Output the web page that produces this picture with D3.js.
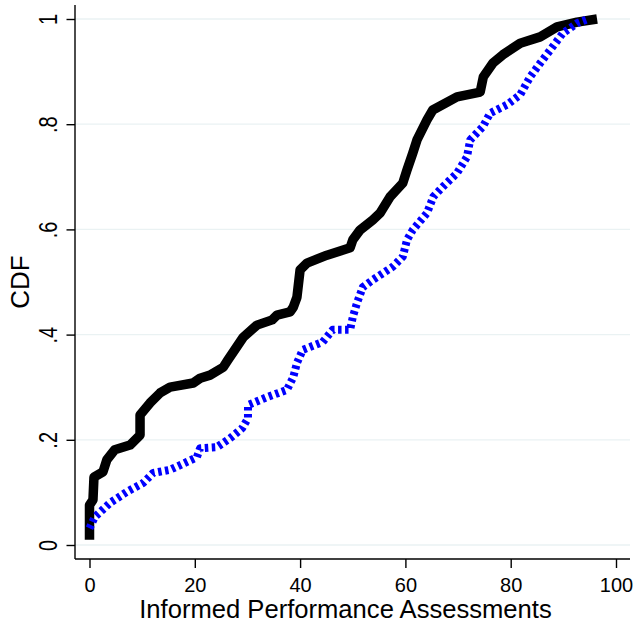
<!DOCTYPE html>
<html>
<head>
<meta charset="utf-8">
<script src="https://cdn.jsdelivr.net/npm/d3@7"></script>
<style>
  html, body { margin: 0; padding: 0; background: #ffffff; }
  svg { display: block; }
  text { font-family: "Liberation Sans", Arial, Helvetica, sans-serif; fill: #000; }
</style>
</head>
<body>
<svg id="chart" width="636" height="629"></svg>
<script>
// ---------------- data ----------------
const xTickValues = [0, 20, 40, 60, 80, 100];
const xTickLabels = ["0", "20", "40", "60", "80", "100"];
const yTickValues = [0, 0.2, 0.4, 0.6, 0.8, 1];
const yTickLabels = ["0", ".2", ".4", ".6", ".8", "1"];
const xTitle = "Informed Performance Assessments";
const yTitle = "CDF";

// black solid series (x = assessment, y = CDF)
const blackX = [0, 0, 0.66, 0.85, 2.56, 3.3, 4.8, 7.7, 9.6, 9.6, 11.5, 13.4, 15.3, 19.7, 21.0, 22.9,
  25.4, 26.3, 29.2, 31.8, 34.7, 35.6, 38.1, 38.7, 39.4, 40.0, 41.3, 45.1, 49.5, 50.0, 51.4,
  53.8, 55.2, 57.1, 59.5, 60.3, 61.4, 62.2, 64.1, 65.2, 69.8, 74.2, 74.8, 76.6, 78.5, 81.8,
  85.6, 88.8, 92.6, 96.4];
const blackY = [0.01, 0.076, 0.086, 0.129, 0.139, 0.162, 0.181, 0.190, 0.209, 0.247, 0.270, 0.289, 0.300, 0.308, 0.317, 0.323,
  0.338, 0.352, 0.395, 0.418, 0.428, 0.437, 0.443, 0.452, 0.471, 0.523, 0.536, 0.551, 0.565, 0.580, 0.599,
  0.618, 0.631, 0.662, 0.688, 0.713, 0.745, 0.770, 0.808, 0.827, 0.852, 0.861, 0.890, 0.916, 0.932, 0.954,
  0.966, 0.985, 0.994, 1.0];

// blue dashed series
const blueX = [0, 1.0, 3.9, 7.1, 10.2, 12.1, 15.3, 18.5, 20.4, 21.0, 24.2, 26.7, 29.0, 30.1, 30.1, 33.7,
  37.5, 38.7, 39.4, 40.5, 44.3, 46.2, 49.5, 50.0, 50.8, 51.9, 53.8, 57.6, 59.5, 60.3, 61.4,
  64.1, 65.3, 67.1, 69.8, 71.7, 72.3, 74.7, 76.1, 79.3, 81.8, 83.7, 85.6, 87.5, 89.9, 92.6, 94.7];
const blueY = [0.032, 0.053, 0.080, 0.101, 0.118, 0.137, 0.143, 0.158, 0.167, 0.184, 0.186, 0.203, 0.222, 0.241, 0.266, 0.281,
  0.295, 0.319, 0.346, 0.371, 0.386, 0.409, 0.409, 0.433, 0.460, 0.490, 0.504, 0.529, 0.548, 0.580, 0.599,
  0.631, 0.662, 0.681, 0.707, 0.738, 0.770, 0.795, 0.821, 0.837, 0.856, 0.890, 0.916, 0.941, 0.973, 0.992, 1.0];

// ---------------- layout ----------------
const svg = d3.select("#chart");
const region = { left: 75, right: 630, top: 5, bottom: 559 };

const x = d3.scaleLinear().domain([0, 100]).range([89.5, 616]);
const y = d3.scaleLinear().domain([0, 1]).range([545, 19]);

// gridlines
svg.append("g").selectAll("line")
  .data(yTickValues)
  .join("line")
  .attr("x1", region.left).attr("x2", region.right)
  .attr("y1", d => y(d)).attr("y2", d => y(d))
  .attr("stroke", "rgb(234,242,243)")
  .attr("stroke-width", 1.3);

// series
const line = d3.line().x(d => x(d[0])).y(d => y(d[1]));
const blackData = blackX.map((v, i) => [v, blackY[i]]);
const blueData = blueX.map((v, i) => [v, blueY[i]]);

svg.append("path")
  .datum(blackData)
  .attr("d", line)
  .attr("fill", "none")
  .attr("stroke", "#000")
  .attr("stroke-width", 9.5)
  .attr("stroke-linejoin", "round")
  .attr("stroke-linecap", "butt");

svg.append("path")
  .datum(blueData)
  .attr("d", line)
  .attr("fill", "none")
  .attr("stroke", "#0000ff")
  .attr("stroke-width", 8)
  .attr("stroke-dasharray", "3.5,3.5")
  .attr("stroke-linejoin", "round")
  .attr("stroke-linecap", "butt");

// axes
const xAxis = d3.axisBottom(x)
  .tickValues(xTickValues)
  .tickFormat((d, i) => xTickLabels[i])
  .tickSize(9)
  .tickSizeOuter(0)
  .tickPadding(4);
const gx = svg.append("g").attr("transform", `translate(0,${region.bottom})`).call(xAxis);
gx.select(".domain").remove();
gx.append("line").attr("x1", region.left).attr("x2", region.right).attr("y1", 0).attr("y2", 0)
  .attr("stroke", "#000").attr("stroke-width", 1.4);
gx.selectAll(".tick line").attr("stroke", "#000").attr("stroke-width", 1.4);
gx.selectAll(".tick text")
  .attr("font-size", 20)
  .attr("font-family", "Liberation Sans, Arial, sans-serif")
  .attr("fill", "#000")
  .attr("dy", null)
  .attr("y", 33);

const yAxis = d3.axisLeft(y)
  .tickValues(yTickValues)
  .tickFormat((d, i) => yTickLabels[i])
  .tickSize(8.5)
  .tickSizeOuter(0);
const gy = svg.append("g").attr("transform", `translate(${region.left},0)`).call(yAxis);
gy.select(".domain").remove();
gy.append("line").attr("x1", 0).attr("x2", 0).attr("y1", region.top).attr("y2", region.bottom)
  .attr("stroke", "#000").attr("stroke-width", 1.4);
gy.selectAll(".tick line").attr("stroke", "#000").attr("stroke-width", 1.4);
gy.selectAll(".tick text")
  .attr("font-size", 20)
  .attr("font-family", "Liberation Sans, Arial, sans-serif")
  .attr("fill", "#000")
  .attr("x", null).attr("dy", null)
  .attr("text-anchor", "middle")
  .attr("transform", "translate(-18,0) rotate(-90) scale(1,1.25)");

// axis titles
svg.append("text")
  .attr("x", 345.5)
  .attr("y", 618)
  .attr("text-anchor", "middle")
  .attr("font-size", 25.6)
  .text(xTitle);

svg.append("text")
  .attr("transform", `translate(29,${y(0.5)}) rotate(-90)`)
  .attr("text-anchor", "middle")
  .attr("font-size", 26)
  .text(yTitle);
</script>
</body>
</html>
